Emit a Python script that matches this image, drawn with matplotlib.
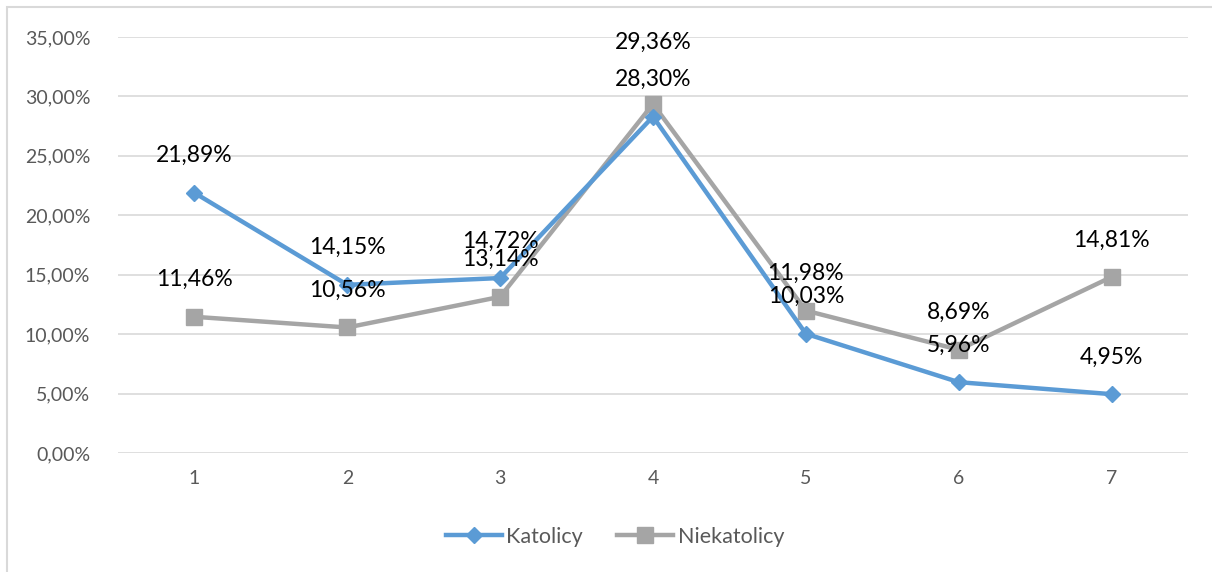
import matplotlib
matplotlib.use("Agg")
import matplotlib.pyplot as plt
from matplotlib.patches import Rectangle
from matplotlib.ticker import FuncFormatter

categories = ["1", "2", "3", "4", "5", "6", "7"]
katolicy = [21.89, 14.15, 14.72, 28.30, 10.03, 5.96, 4.95]
niekatolicy = [11.46, 10.56, 13.14, 29.36, 11.98, 8.69, 14.81]
y_ticks = [0, 5, 10, 15, 20, 25, 30, 35]

plt.rcParams["font.family"] = ["Lato", "DejaVu Sans"]

fig = plt.figure(figsize=(12.12, 5.72), dpi=100)
ax = fig.add_axes([118 / 1212, 1 - 453 / 572, (1188 - 118) / 1212, (453 - 37) / 572])

# outer chart border
fig.patches.append(Rectangle((7 / 1212, -0.01), 1.02, 1 - 7 / 572 + 0.01,
                             transform=fig.transFigure, fill=False,
                             edgecolor="#d9d9d9", linewidth=1.5))

x = list(range(len(categories)))
blue = "#5B9BD5"
gray = "#A5A5A5"

ax.plot(x, katolicy, color=blue, linewidth=3.2, marker="D", markersize=8,
        label="Katolicy", zorder=4)
ax.plot(x, niekatolicy, color=gray, linewidth=3.2, marker="s", markersize=12,
        label="Niekatolicy", zorder=3)

def fmt(v):
    return f"{v:.2f}".replace(".", ",") + "%"

label_fs = 16.5
for xi, v in zip(x, katolicy):
    ax.annotate(fmt(v), (xi, v), xytext=(0, 37), textcoords="offset pixels",
                ha="center", va="center", fontsize=label_fs, color="black", zorder=5)
for i, (xi, v) in enumerate(zip(x, niekatolicy)):
    dy = 37
    # lift the label above the other series' label when both sit close together at the peak
    if v > katolicy[i] and abs(v - katolicy[i]) < 2 and v > 20:
        dy = 62
    ax.annotate(fmt(v), (xi, v), xytext=(0, dy), textcoords="offset pixels",
                ha="center", va="center", fontsize=label_fs, color="black", zorder=5)

ax.set_xlim(-0.5, len(categories) - 0.5)
ax.set_ylim(0, 35)
ax.set_yticks(y_ticks)
ax.yaxis.set_major_formatter(FuncFormatter(lambda v, p: f"{v:.2f}".replace(".", ",") + "%"))
ax.set_xticks(x)
ax.set_xticklabels(categories)
ax.grid(axis="y", color="#d9d9d9", linewidth=1.2)
ax.set_axisbelow(True)
for s in ax.spines.values():
    s.set_visible(False)
ax.tick_params(length=0, labelsize=14, labelcolor="#595959")
ax.tick_params(axis="y", pad=20)
ax.tick_params(axis="x", pad=12)

leg = fig.legend(loc="center", bbox_to_anchor=(615 / 1212, 1 - 537 / 572), ncol=2,
                 frameon=False, fontsize=15.5, handlelength=2.6, columnspacing=1.6,
                 handletextpad=0.2)
for t in leg.get_texts():
    t.set_color("#595959")

fig.savefig("out.png", dpi=100)
